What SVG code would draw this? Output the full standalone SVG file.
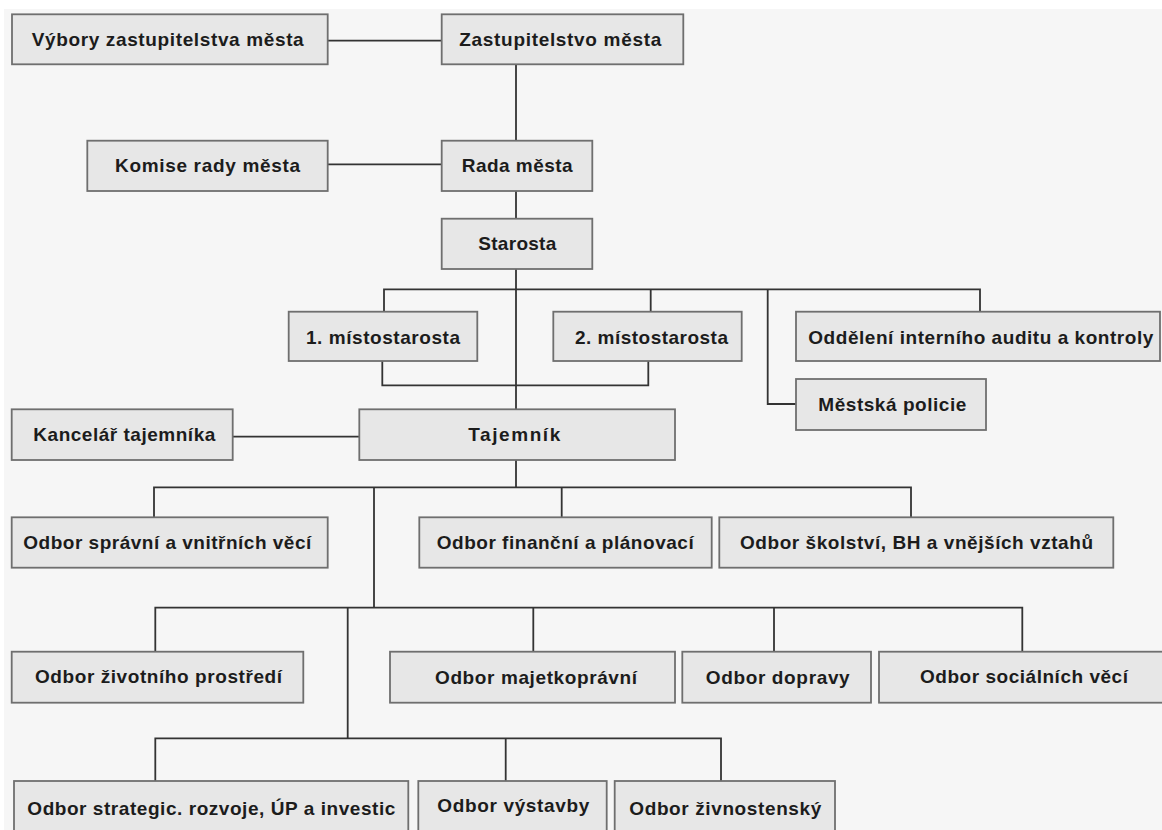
<svg xmlns="http://www.w3.org/2000/svg" width="1162" height="830" viewBox="0 0 1162 830">
<style>
.box{fill:#e7e7e7;stroke:#6f6f6f;stroke-width:1.8}
.t{font-family:"Liberation Sans",Arial,sans-serif;font-weight:bold;font-size:19px;fill:#1c1c1c}
.c{fill:none;stroke:#333333;stroke-width:1.8}
</style>
<rect x="0" y="0" width="1162" height="830" fill="#ffffff"/>
<rect x="4" y="9" width="1158" height="821" fill="#f6f6f6"/>
<g id="connectors">
<path class="c" d="M328,40.7 H441.7"/>
<path class="c" d="M516,64 V140.7"/>
<path class="c" d="M328,164.3 H441.7"/>
<path class="c" d="M516,191 V218.7"/>
<path class="c" d="M516,269 V409.3"/>
<path class="c" d="M384,311.7 V289.3 H980 V311.7"/>
<path class="c" d="M650.7,289.3 V311.7"/>
<path class="c" d="M767.7,289.3 V404 H796"/>
<path class="c" d="M382.3,361 V385.3 H648.3 V361"/>
<path class="c" d="M232.7,436.7 H359.3"/>
<path class="c" d="M516,460 V487.3"/>
<path class="c" d="M154,517.3 V487.3 H911 V517.3"/>
<path class="c" d="M561.7,487.3 V517.3"/>
<path class="c" d="M374,487.3 V607.7"/>
<path class="c" d="M155.3,651.7 V607.7 H1022.3 V651.7"/>
<path class="c" d="M533.3,607.7 V651.7"/>
<path class="c" d="M774,607.7 V651.7"/>
<path class="c" d="M347.7,607.7 V738.3"/>
<path class="c" d="M155.3,781 V738.3 H721 V781"/>
<path class="c" d="M505.7,738.3 V781"/>
</g>
<g id="vybory"><rect class="box" x="12" y="14.3" width="315.7" height="50"/><text class="t" x="31.7" y="46" textLength="272" lengthAdjust="spacing">Výbory zastupitelstva města</text></g>
<g id="zastupitelstvo"><rect class="box" x="441.7" y="14.3" width="241.6" height="50"/><text class="t" x="459.3" y="46" textLength="202" lengthAdjust="spacing">Zastupitelstvo města</text></g>
<g id="komise"><rect class="box" x="87.3" y="140.7" width="240.4" height="50.3"/><text class="t" x="115" y="172" textLength="185" lengthAdjust="spacing">Komise rady města</text></g>
<g id="rada"><rect class="box" x="441.7" y="140.7" width="150.6" height="50.3"/><text class="t" x="461.7" y="172" textLength="111" lengthAdjust="spacing">Rada města</text></g>
<g id="starosta"><rect class="box" x="441.7" y="218.7" width="150.6" height="50.3"/><text class="t" x="478.3" y="250" textLength="78" lengthAdjust="spacing">Starosta</text></g>
<g id="mistostarosta1"><rect class="box" x="288.7" y="311.7" width="188.6" height="49.3"/><text class="t" x="306" y="343.5" textLength="154" lengthAdjust="spacing">1. místostarosta</text></g>
<g id="mistostarosta2"><rect class="box" x="553.3" y="311.7" width="188.4" height="49.3"/><text class="t" x="575" y="343.5" textLength="153" lengthAdjust="spacing">2. místostarosta</text></g>
<g id="audit"><rect class="box" x="796" y="311.7" width="364" height="49.3"/><text class="t" x="808.3" y="343.5" textLength="345" lengthAdjust="spacing">Oddělení interního auditu a kontroly</text></g>
<g id="policie"><rect class="box" x="796" y="379" width="190" height="51"/><text class="t" x="818.3" y="410.5" textLength="148" lengthAdjust="spacing">Městská policie</text></g>
<g id="kancelar"><rect class="box" x="11.7" y="409.3" width="221" height="50.7"/><text class="t" x="33.3" y="440.5" textLength="182" lengthAdjust="spacing">Kancelář tajemníka</text></g>
<g id="tajemnik"><rect class="box" x="359.3" y="409.3" width="315.7" height="50.7"/><text class="t" x="468.3" y="440.5" textLength="92" lengthAdjust="spacing">Tajemník</text></g>
<g id="spravni"><rect class="box" x="11.7" y="517.3" width="316" height="50.4"/><text class="t" x="23.3" y="549" textLength="288" lengthAdjust="spacing">Odbor správní a vnitřních věcí</text></g>
<g id="financni"><rect class="box" x="419.3" y="517.3" width="292.4" height="50.4"/><text class="t" x="436.7" y="549" textLength="257" lengthAdjust="spacing">Odbor finanční a plánovací</text></g>
<g id="skolstvi"><rect class="box" x="719.3" y="517.3" width="394" height="50.4"/><text class="t" x="740" y="549" textLength="353" lengthAdjust="spacing">Odbor školství, BH a vnějších vztahů</text></g>
<g id="zivotni"><rect class="box" x="11.7" y="651.7" width="291.6" height="51"/><text class="t" x="35" y="683" textLength="247" lengthAdjust="spacing">Odbor životního prostředí</text></g>
<g id="majetkopravni"><rect class="box" x="390" y="651.7" width="285" height="51"/><text class="t" x="435" y="684" textLength="202" lengthAdjust="spacing">Odbor majetkoprávní</text></g>
<g id="dopravy"><rect class="box" x="682.3" y="651.7" width="188.7" height="51"/><text class="t" x="705.7" y="684" textLength="144" lengthAdjust="spacing">Odbor dopravy</text></g>
<g id="socialni"><rect class="box" x="879" y="651.7" width="290" height="51"/><text class="t" x="920" y="682.5" textLength="208" lengthAdjust="spacing">Odbor sociálních věcí</text></g>
<g id="strategicky"><rect class="box" x="14" y="781" width="394.3" height="52"/><text class="t" x="27.3" y="815" textLength="368" lengthAdjust="spacing">Odbor strategic. rozvoje, ÚP a investic</text></g>
<g id="vystavby"><rect class="box" x="418.3" y="781" width="188.4" height="52"/><text class="t" x="437.3" y="812" textLength="152" lengthAdjust="spacing">Odbor výstavby</text></g>
<g id="zivnostensky"><rect class="box" x="614.7" y="781" width="220.3" height="52"/><text class="t" x="629.3" y="815" textLength="192" lengthAdjust="spacing">Odbor živnostenský</text></g>
</svg>
